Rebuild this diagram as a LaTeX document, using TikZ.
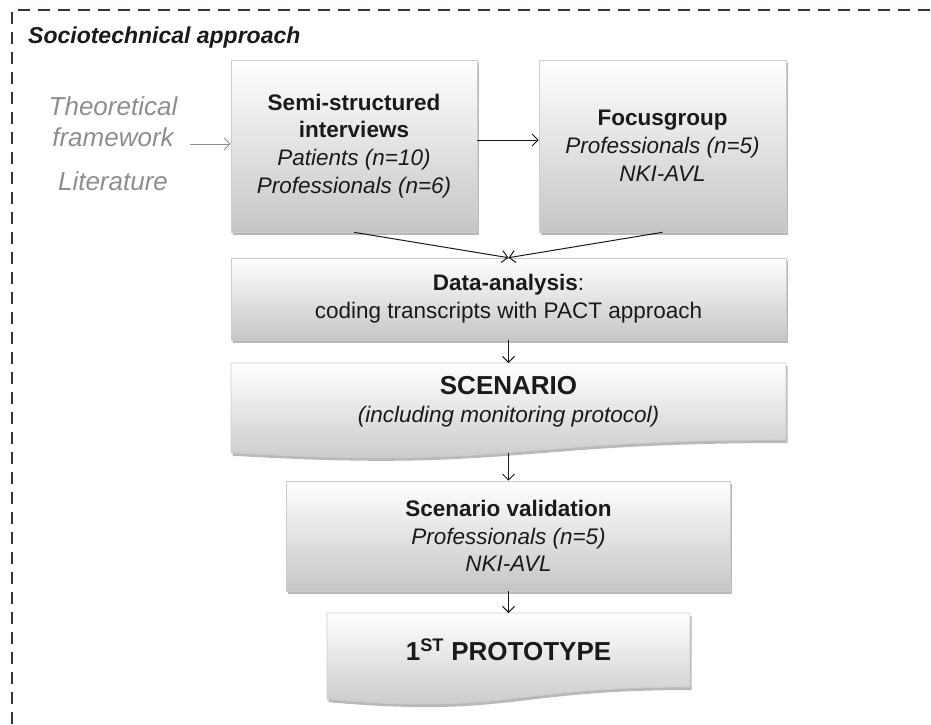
\documentclass[tikz,border=0pt]{standalone}
\usepackage{fontspec}
\setmainfont{Liberation Sans}
\usetikzlibrary{shadows,arrows.meta}
\definecolor{frameblue}{HTML}{1F3864}
\definecolor{ink}{HTML}{1A1A1A}
\definecolor{soft}{HTML}{8E8E8E}
\tikzset{
  panel/.style={draw=gray!40, line width=0.6pt, top color=white, bottom color=gray!45,
    drop shadow={shadow xshift=1.5pt, shadow yshift=-3pt, opacity=0.55}},
  stage/.style={panel, rectangle, align=center, text=ink, inner sep=0pt},
  txt/.style={align=center, text=ink, inner sep=0pt,
    font=\fontsize{22.5}{27.8}\selectfont},
  flow/.style={-{Straight Barb[length=6pt,width=12pt]}, line width=1pt, ink},
  softflow/.style={-{Straight Barb[length=6pt,width=12pt]}, line width=1pt, soft}
}
\begin{document}
\begin{tikzpicture}[x=1pt,y=-1pt]
\useasboundingbox (0,0) rectangle (931,724);

% dashed outline of the approach
\draw[frameblue, line width=2.6pt, dash pattern=on 12pt off 8pt] (12,724) -- (12,10) -- (931,10);
\node[anchor=west, inner sep=0pt, text=ink, font=\fontsize{23}{27}\selectfont\bfseries\itshape]
  (title) at (28,38) {Sociotechnical approach};

% inputs
\node[align=center, inner sep=0pt, text=soft, font=\fontsize{26}{31}\selectfont\itshape]
  (theory) at (113,144) {Theoretical\\framework\\[13pt]Literature};

% first stage
\node[stage, txt, minimum width=246pt, minimum height=172pt] (interviews) at (354,146)
  {\textbf{Semi-structured}\\\textbf{interviews}\\\textit{Patients (n=10)}\\\textit{Professionals (n=6)}};
\node[stage, txt, minimum width=247pt, minimum height=172pt] (focus) at (662.5,146)
  {\textbf{Focusgroup}\\\textit{Professionals (n=5)}\\\textit{NKI-AVL}};

% analysis
\node[stage, txt, minimum width=555pt, minimum height=82pt] (analysis) at (508.5,299)
  {\textbf{Data-analysis}:\\coding transcripts with PACT approach};

% scenario (document shape)
\path[panel] (231,363) -- (786,363) -- (786,440)
  .. controls (508.5,440) and (508.5,469.3) .. (231,452.7) -- cycle;
\coordinate (scentop) at (508.5,363);
\coordinate (scenbot) at (508.5,452.6);
\node[txt] (scenario) at (508.5,402)
  {{\fontsize{26}{31}\selectfont\bfseries SCENARIO}\\\textit{(including monitoring protocol)}};

% validation
\node[stage, txt, minimum width=444pt, minimum height=110pt] (validation) at (508.5,536)
  {\textbf{Scenario validation}\\\textit{Professionals (n=5)}\\\textit{NKI-AVL}};

% prototype (document shape)
\path[panel] (327,613) -- (690,613) -- (690,687)
  .. controls (508.5,687) and (508.5,715.2) .. (327,699.2) -- cycle;
\coordinate (prototop) at (508.5,613);
\node[txt, font=\fontsize{26}{31}\selectfont\bfseries] (prototype) at (508.5,650)
  {1\textsuperscript{ST} PROTOTYPE};

% connectors
\draw[softflow, shorten <=12pt] (theory.east) -- (theory.east -| interviews.west);
\draw[flow] ([yshift=6pt]interviews.east) -- ([yshift=6pt]focus.west);
\draw[flow] (interviews.south) -- (analysis.north);
\draw[flow] (focus.south) -- (analysis.north);
\draw[flow] (analysis.south) -- (scentop);
\draw[flow] (scenbot) -- (validation.north);
\draw[flow] (validation.south) -- (prototop);
\end{tikzpicture}
\end{document}
